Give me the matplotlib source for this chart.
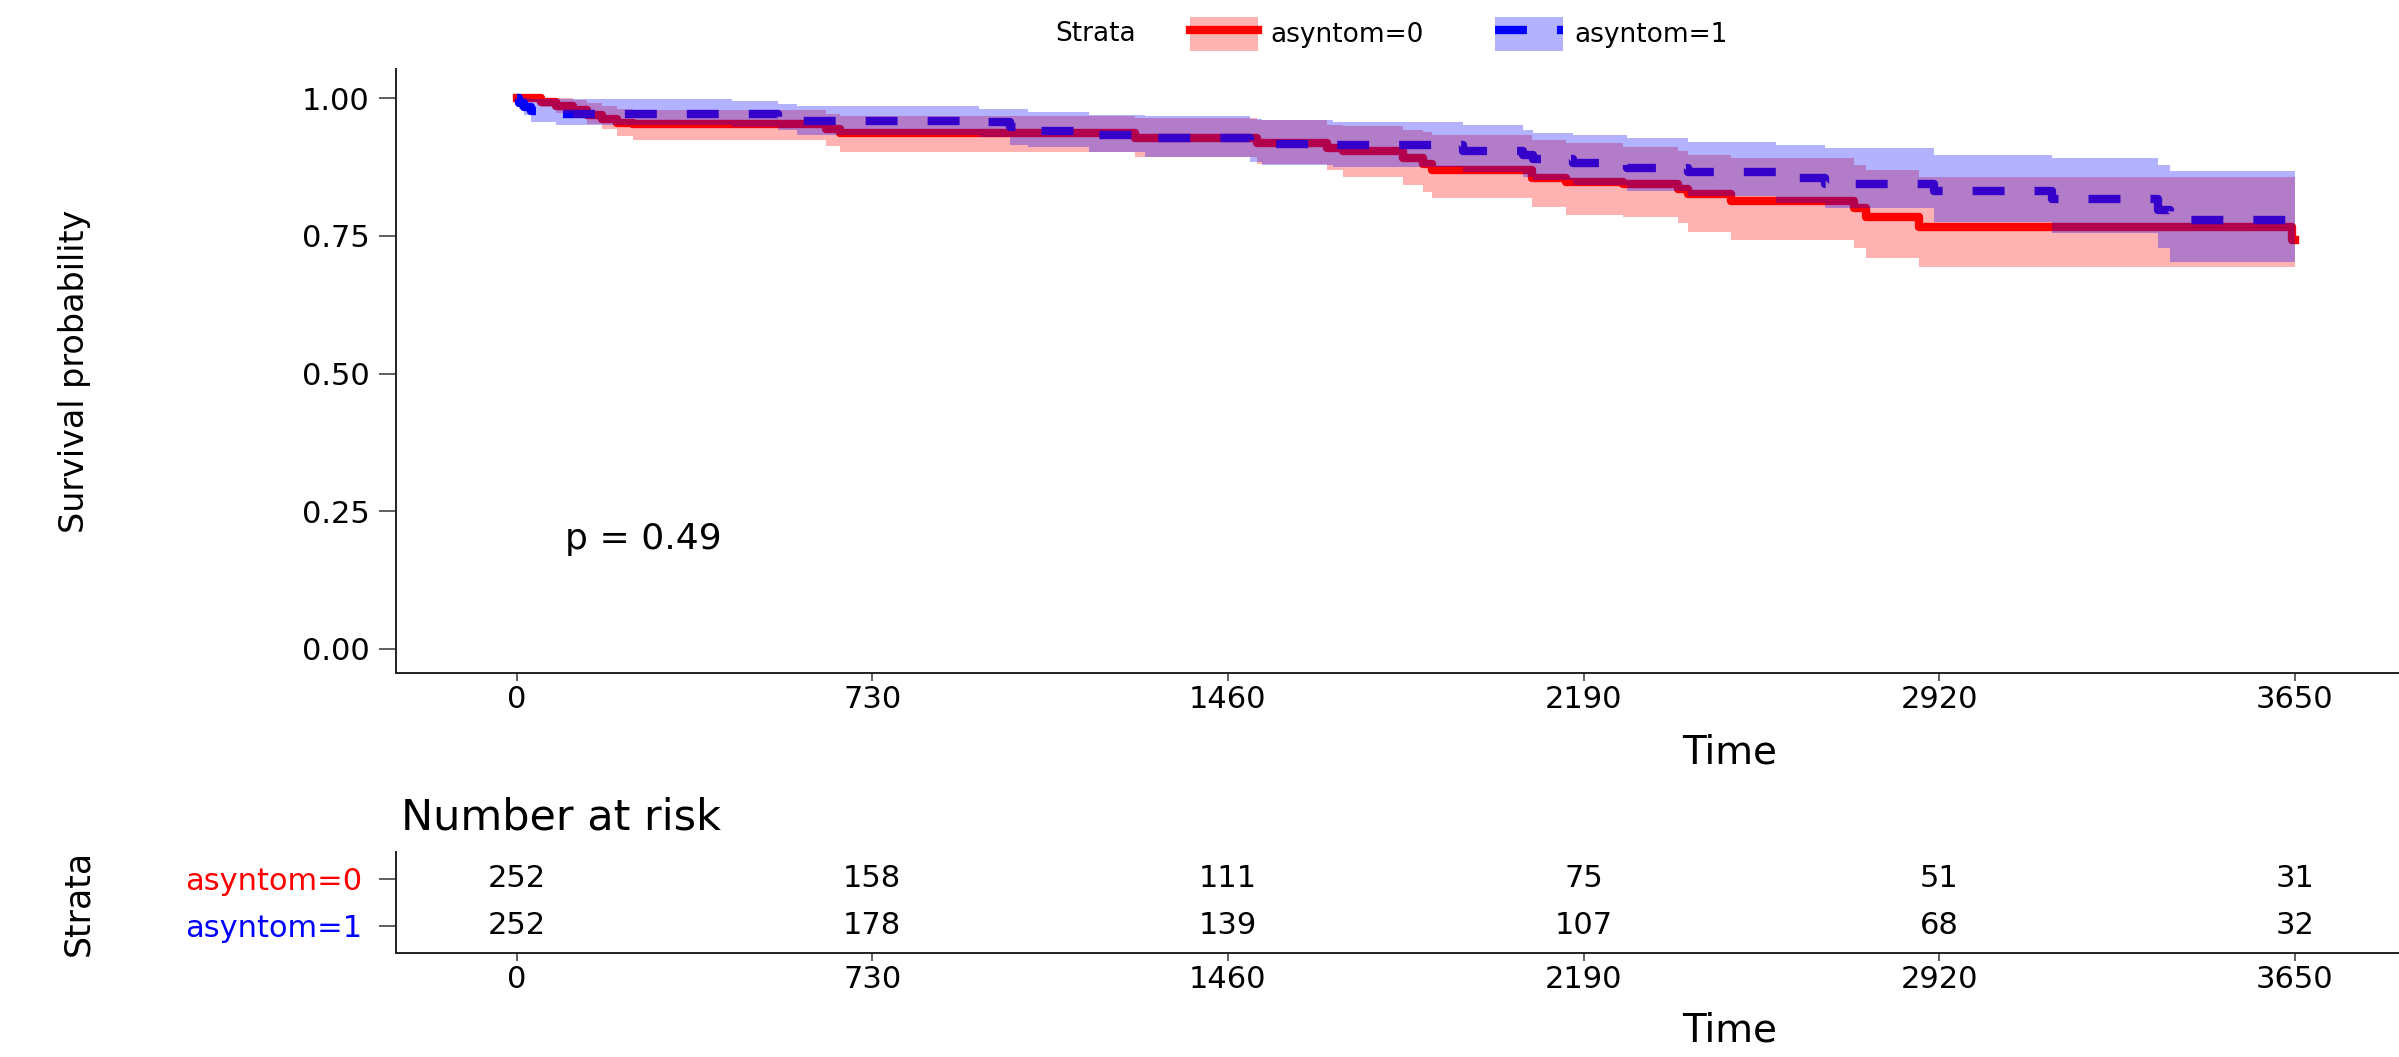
import numpy as np
import matplotlib.pyplot as plt
from matplotlib.patches import Patch
from matplotlib.lines import Line2D

plt.rcParams['font.family'] = ['DejaVu Sans']
plt.rcParams['lines.scale_dashes'] = False

# Kaplan-Meier estimates, asyntom=0
time_0 = [0, 50, 80, 115, 145, 175, 205, 238, 636, 663, 1270, 1520, 1663, 1696,
          1820, 1860, 1880, 2084, 2155, 2271, 2384, 2404, 2493, 2745, 2770, 2878,
          3645, 3650]
surv_0 = [1.000, 0.994, 0.986, 0.978, 0.970, 0.962, 0.955, 0.953, 0.945, 0.937,
          0.927, 0.918, 0.910, 0.905, 0.891, 0.880, 0.869, 0.855, 0.848, 0.845,
          0.836, 0.826, 0.813, 0.800, 0.784, 0.766, 0.742, 0.742]
lower_0 = [1.000, 0.984, 0.974, 0.964, 0.954, 0.944, 0.932, 0.925, 0.914, 0.902,
           0.893, 0.880, 0.869, 0.857, 0.842, 0.830, 0.818, 0.802, 0.788, 0.785,
           0.773, 0.757, 0.742, 0.728, 0.710, 0.693, 0.693, 0.693]
upper_0 = [1.000, 1.000, 1.000, 0.996, 0.991, 0.986, 0.980, 0.978, 0.972, 0.968,
           0.964, 0.960, 0.952, 0.950, 0.942, 0.938, 0.933, 0.924, 0.918, 0.911,
           0.904, 0.897, 0.891, 0.878, 0.869, 0.857, 0.857, 0.857]

# Kaplan-Meier estimates, asyntom=1
time_1 = [0, 5, 15, 30, 80, 443, 536, 575, 950, 1012, 1050, 1175, 1290, 1505,
          1530, 1676, 1942, 2065, 2086, 2168, 2280, 2404, 2585, 2685, 2910, 3151,
          3370, 3394, 3650]
surv_1 = [1.000, 0.992, 0.984, 0.976, 0.972, 0.971, 0.966, 0.958, 0.957, 0.948,
          0.940, 0.934, 0.927, 0.918, 0.916, 0.915, 0.904, 0.897, 0.889, 0.882,
          0.873, 0.866, 0.855, 0.844, 0.832, 0.817, 0.797, 0.778, 0.778]
lower_1 = [1.000, 0.980, 0.969, 0.957, 0.952, 0.948, 0.943, 0.933, 0.930, 0.915,
           0.912, 0.902, 0.893, 0.884, 0.878, 0.876, 0.866, 0.857, 0.852, 0.843,
           0.832, 0.823, 0.810, 0.800, 0.775, 0.755, 0.728, 0.702, 0.702]
upper_1 = [1.000, 1.000, 1.000, 0.999, 0.998, 0.995, 0.990, 0.986, 0.981, 0.980,
           0.975, 0.969, 0.967, 0.962, 0.960, 0.956, 0.951, 0.942, 0.936, 0.933,
           0.927, 0.920, 0.915, 0.909, 0.897, 0.891, 0.878, 0.868, 0.868]

# number at risk table
risk_times = [0, 730, 1460, 2190, 2920, 3650]
risk_0 = [252, 158, 111, 75, 51, 31]
risk_1 = [252, 178, 139, 107, 68, 32]
strata = ['asyntom=0', 'asyntom=1']
colors = ['#FF0000', '#0000FF']

y_ticks = [0.0, 0.25, 0.5, 0.75, 1.0]
y_labels = ['0.00', '0.25', '0.50', '0.75', '1.00']

xlim = (-248, 3864)
dash = (0, (23, 21.6))
lw = 6
tick_col = '#333333'


def style_axis(ax):
    for side in ['top', 'right']:
        ax.spines[side].set_visible(False)
    for side in ['left', 'bottom']:
        ax.spines[side].set_linewidth(1.4)
        ax.spines[side].set_color('#222222')
    ax.tick_params(axis='x', length=6, width=1.1, color=tick_col, pad=3, labelsize=22)
    ax.tick_params(axis='y', length=12, width=1.1, color=tick_col, pad=7, labelsize=22)
    ax.set_xlim(*xlim)
    ax.set_xticks(risk_times)
    ax.set_xticklabels([str(t) for t in risk_times])


fig = plt.figure(figsize=(23.99, 10.57), dpi=100)

# survival curves
ax = fig.add_axes([0.165, 0.3633, 0.835, 0.5714])
style_axis(ax)
ax.step(time_0, surv_0, where='post', color=colors[0], lw=lw, zorder=2)
ax.step(time_1, surv_1, where='post', color=colors[1], lw=lw, linestyle=dash,
        dash_capstyle='butt', zorder=2.1)
ax.fill_between(time_0, lower_0, upper_0, step='post', color=colors[0],
                alpha=0.3, lw=0, zorder=3)
ax.fill_between(time_1, lower_1, upper_1, step='post', color=colors[1],
                alpha=0.3, lw=0, zorder=4)
ax.set_ylim(-0.0436, 1.053)
ax.set_yticks(y_ticks)
ax.set_yticklabels(y_labels)
ax.set_ylabel('Survival probability', fontsize=24)
ax.yaxis.set_label_coords(-0.152, 0.5)
ax.set_xlabel('Time', fontsize=28, va='top')
ax.xaxis.set_label_coords(0.666, -0.1)
ax.text(100, 0.2, 'p = 0.49', fontsize=26, va='center', ha='left')

# legend on top
fig.text(1055 / 2399, 0.968, 'Strata', fontsize=19, va='center', ha='left')
handles = [(Patch(facecolor=colors[0], alpha=0.3, lw=0),
            Line2D([], [], color=colors[0], lw=lw)),
           (Patch(facecolor=colors[1], alpha=0.3, lw=0),
            Line2D([], [], color=colors[1], lw=lw, linestyle=dash,
                   dash_capstyle='butt'))]
fig.legend(handles, strata, loc='center left', bbox_to_anchor=(1190 / 2399, 0.968),
           bbox_transform=fig.transFigure, ncol=2, frameon=False, fontsize=19,
           borderpad=0, borderaxespad=0, handlelength=2.58, handleheight=1.63,
           handletextpad=0.45, columnspacing=2.7)

# risk table
ax2 = fig.add_axes([0.165, 0.0984, 0.835, 0.0956])
style_axis(ax2)
ax2.tick_params(axis='y', pad=12)
ax2.set_ylim(-0.574, 1.574)
ax2.set_yticks([1, 0])
ax2.set_yticklabels(strata)
for lab, c in zip(ax2.get_yticklabels(), colors):
    lab.set_color(c)
for t, n0, n1 in zip(risk_times, risk_0, risk_1):
    ax2.text(t, 1, str(n0), fontsize=22, ha='center', va='center')
    ax2.text(t, 0, str(n1), fontsize=22, ha='center', va='center')
ax2.set_ylabel('Strata', fontsize=25)
ax2.yaxis.set_label_coords(-0.150, 0.5)
ax2.set_xlabel('Time', fontsize=28, va='top')
ax2.xaxis.set_label_coords(0.666, -0.58)
fig.text(401 / 2399, 1 - 829 / 1057, 'Number at risk', fontsize=31,
         ha='left', va='baseline')

fig.savefig('out.png', dpi=100)
